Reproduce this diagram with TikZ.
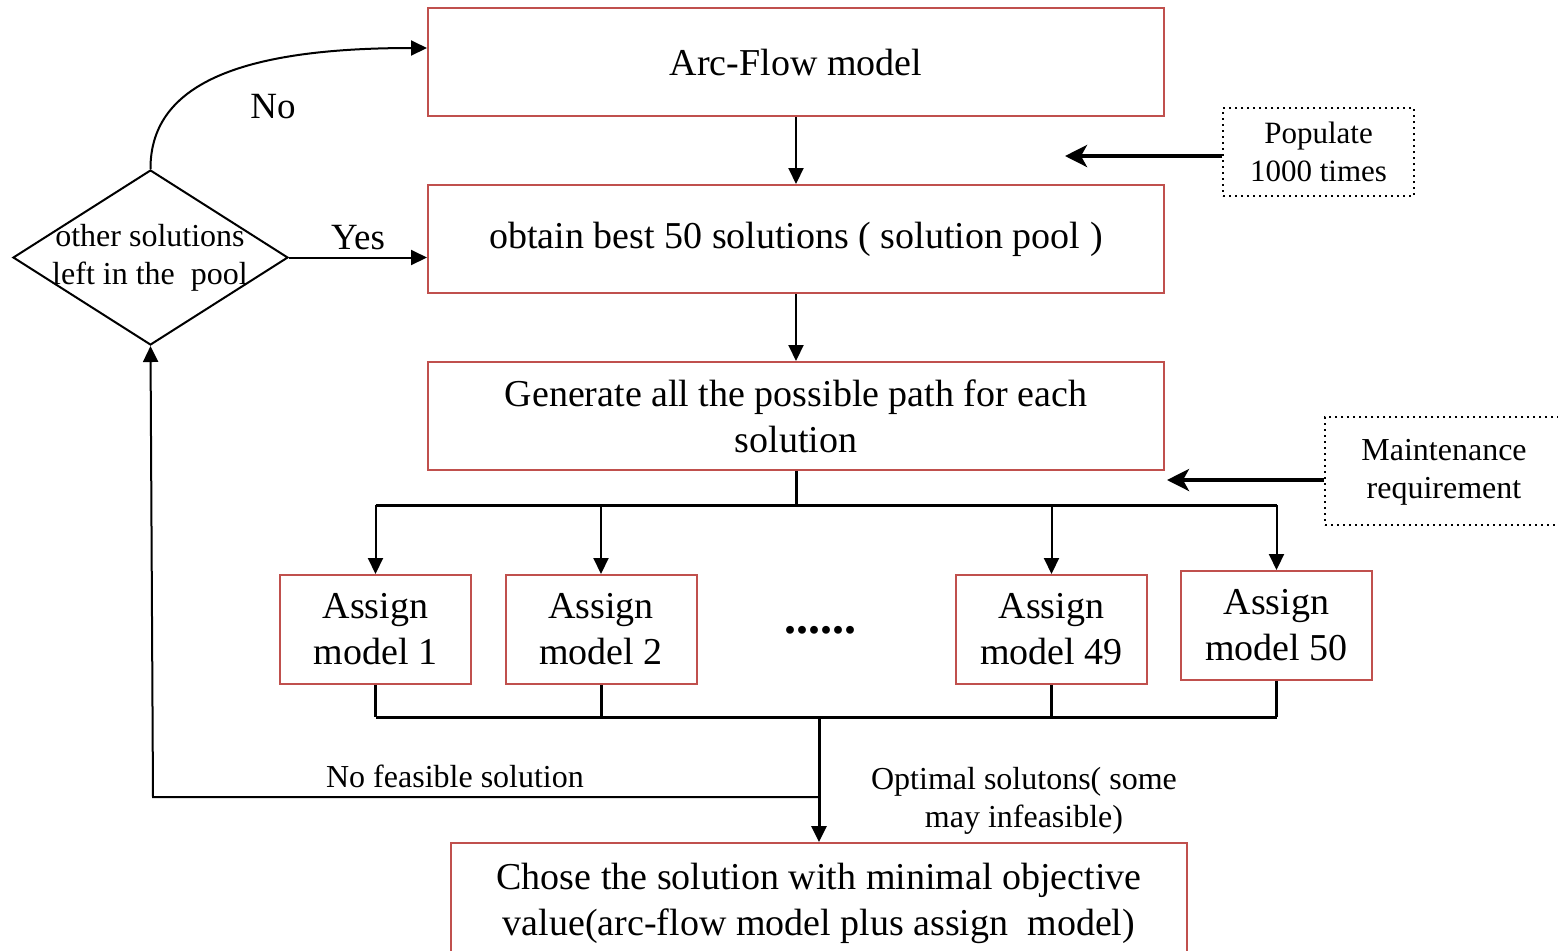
\documentclass[tikz,border=0pt]{standalone}
\usepackage{fontspec}
\setmainfont{Liberation Serif}
\usetikzlibrary{arrows.meta,shapes.geometric,calc}
\definecolor{boxred}{HTML}{C0504D}
\begin{document}
\begin{tikzpicture}[x=0.5pt,y=-0.5pt,
  box/.style={draw=boxred, line width=1pt, minimum width=368pt, minimum height=54pt, inner sep=0pt, align=center, font=\fontsize{19}{23}\selectfont},
  abox/.style={box, minimum width=95.5pt, minimum height=54.5pt},
  dotbox/.style={draw, line width=1pt, dash pattern=on 1pt off 2pt, align=center, inner sep=0pt, font=\fontsize{15.5}{19}\selectfont},
  arr/.style={-{Triangle[length=8pt,width=7.5pt]}, line width=1pt},
  thickarr/.style={-{Stealth[length=11pt,width=11pt,inset=3pt]}, line width=2pt},
  tree/.style={line width=1.5pt},
  lbl/.style={inner sep=0pt, align=center, font=\fontsize{16}{19}\selectfont},
  biglbl/.style={inner sep=0pt, font=\fontsize{18.5}{22}\selectfont}]
\useasboundingbox (0,0) rectangle (1558,950);
% main boxes
\node[box] (arc) at (796,62) {Arc-Flow model};
\node[box] (obt) at (796,239) {obtain best 50 solutions ( solution pool )};
\node[box] (gen) at (796,416) {Generate all the possible path for each\\solution};
\node[box, minimum height=60pt] (fin) at (819,903) {Chose the solution with minimal objective\\value(arc-flow model plus assign\ \ model)};
% assign boxes
\node[abox] (a1) at (375.5,629.5) {Assign\\model 1};
\node[abox] (a2) at (601,629.5) {Assign\\model 2};
\node[abox] (a49) at (1051.5,629.5) {Assign\\model 49};
\node[abox] (a50) at (1276.5,625.5) {Assign\\model 50};
\node[inner sep=0pt, font=\fontsize{24}{28}\selectfont\bfseries] (dots) at (820,630) {......};
% dotted boxes
\node[dotbox, minimum width=95.5pt, minimum height=44pt] (pop) at (1318.5,152) {Populate\\1000 times};
\node[dotbox, minimum width=127.5pt, minimum height=54pt] (mnt) at (1452.5,471) {};
\node[lbl] (mnttxt) at (1444,472) {Maintenance\\requirement};
% diamond
\node[diamond, draw, line width=1pt, minimum width=137.5pt, minimum height=87.5pt, inner sep=0pt, aspect=1.57] (dec) at (150.5,257.5) {};
\node[lbl] (dectxt) at (150,258) {other solutions\\left in the\ \ pool};
% coordinates
\coordinate (popend) at (1065,156);
\coordinate (mntend) at (1167,480);
\coordinate (split) at (796,505);
\coordinate (join) at (819,717);
\coordinate (nf) at (819,797);
% connectors
\draw[arr] (arc.south) -- (obt.north);
\draw[arr] (obt.south) -- (gen.north);
\draw[thickarr] ([yshift=-2pt]pop.west) -- (popend);
\draw[thickarr] ([yshift=-4.5pt]mnt.west) -- (mntend);
\draw[tree] (gen.south) -- (split);
\draw[tree] (a1.north |- split) -- (a50.north |- split);
\draw[arr] (a1.north |- split) -- (a1.north);
\draw[arr] (a2.north |- split) -- (a2.north);
\draw[arr] (a49.north |- split) -- (a49.north);
\draw[arr] (a50.north |- split) -- (a50.north);
\draw[tree] (a1.south) -- (a1.south |- join);
\draw[tree] (a2.south) -- (a2.south |- join);
\draw[tree] (a49.south) -- (a49.south |- join);
\draw[tree] (a50.south) -- (a50.south |- join);
\draw[tree] (a1.south |- join) -- (a50.south |- join);
\draw[arr, line width=1.5pt] (join) -- (fin.north);
\draw[arr] (nf) -- (153,797) -- (dec.south);
\draw[arr] (dec.east) -- (dec.east -| obt.west);
\draw[arr] (dec.north) .. controls (150,80) and (250,48) .. ([yshift=7pt]arc.west);
% labels
\node[biglbl] (yes) at (358,238) {Yes};
\node[biglbl] (no) at (273,107) {No};
\node[lbl] (nfl) at (455,776) {No feasible solution};
\node[lbl] (opt) at (1024,801) {Optimal solutons( some\\may infeasible)};
\end{tikzpicture}
\end{document}
